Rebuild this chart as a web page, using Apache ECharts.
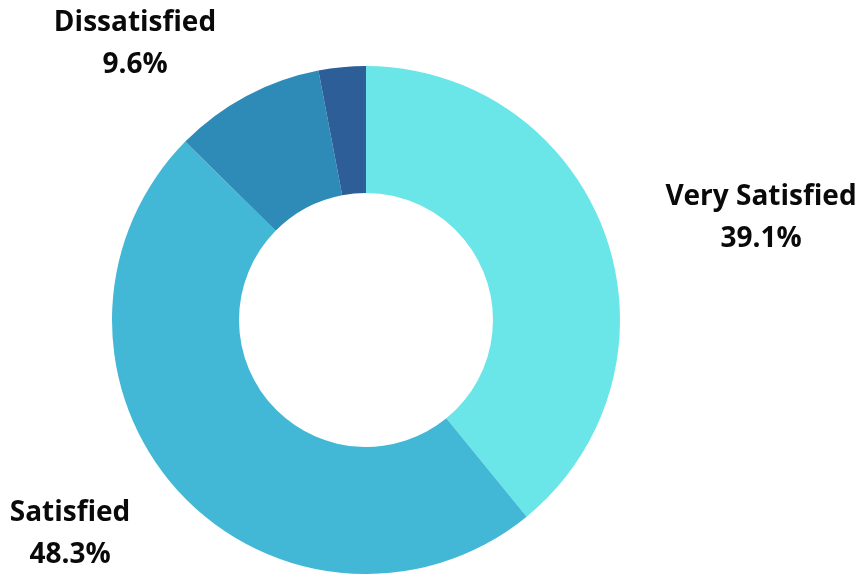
<!DOCTYPE html>
<html>
<head>
<meta charset="utf-8">
<script src="https://cdn.jsdelivr.net/npm/echarts@6/dist/echarts.min.js"></script>
<style>
  html, body { margin: 0; padding: 0; background: #ffffff; }
  #chart { width: 861px; height: 574px; }
</style>
</head>
<body>
<div id="chart"></div>
<script>
// Satisfaction survey results (percent of respondents)
const categories = ['Very Satisfied', 'Satisfied', 'Dissatisfied', 'Very Dissatisfied'];
const shares = [39.1, 48.3, 9.6, 3.0];
const sliceColors = ['#6ae5e8', '#42b8d6', '#2e8bb8', '#2e5e98'];
// Which slices carry a text label
const showLabel = [true, true, true, false];

// Label anchor points (centre of each two-line label block)
const labelAnchors = [
  { x: 761, y: 218 },
  { x: 70, y: 534 },
  { x: 135, y: 44 },
  null
];

const chart = echarts.init(document.getElementById('chart'), null, { renderer: 'canvas' });

chart.setOption({
  animation: false,
  backgroundColor: '#ffffff',
  series: [{
    type: 'pie',
    center: [366, 320],
    radius: [127, 254],
    startAngle: 90,
    clockwise: true,
    avoidLabelOverlap: false,
    labelLine: { show: false },
    emphasis: { disabled: true },
    label: {
      position: 'outside',
      formatter: p => p.name + '\n' + shares[p.dataIndex].toFixed(1) + '%',
      fontFamily: '"Open Sans", sans-serif',
      fontWeight: 'bold',
      fontSize: 28,
      lineHeight: 42,
      color: '#0a0a0a',
      align: 'center'
    },
    labelLayout: function (params) {
      const a = labelAnchors[params.dataIndex];
      if (!a) return {};
      return { x: a.x, y: a.y, align: 'center', verticalAlign: 'middle' };
    },
    data: categories.map((name, i) => ({
      name: name,
      value: shares[i],
      itemStyle: { color: sliceColors[i] },
      label: { show: showLabel[i] }
    }))
  }]
});
</script>
</body>
</html>
